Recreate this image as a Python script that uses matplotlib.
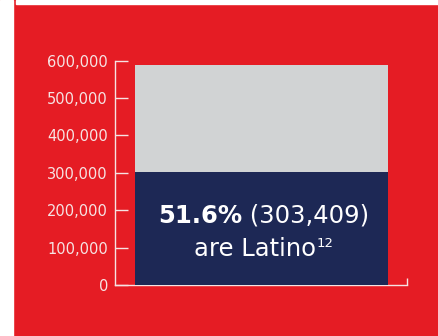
import matplotlib.pyplot as plt
from matplotlib.patches import Rectangle

# population split shown in one stacked bar
total = 588002
latino = 303409
share = 51.6
ticks = [0, 100000, 200000, 300000, 400000, 500000, 600000]

red = '#e51c24'
navy = '#1d2855'
grey = '#d1d3d4'
light = '#f6e3e3'

plt.rcParams['font.family'] = 'DejaVu Sans'

fig = plt.figure(figsize=(4.38, 3.36), dpi=100, facecolor=red)
# white margins at left and top
fig.patches.append(Rectangle((0, 0), 13/438, 1, transform=fig.transFigure, color='white', zorder=0))
fig.patches.append(Rectangle((16/438, 1 - 4/336), 1, 4/336, transform=fig.transFigure, color='white', zorder=0))

ax = fig.add_axes([115/438, 51/336, 292/438, 224.3/336])
ax.set_facecolor(red)

ax.bar(0, total, width=0.8, color=grey, zorder=3)
ax.bar(0, latino, width=0.8, color=navy, zorder=3)

x_right = -0.4633 + 292/316.
ax.set_xlim(-0.4633, x_right)
ax.set_ylim(0, 600000)

for s in ['top', 'right']:
    ax.spines[s].set_visible(False)
for s in ['left', 'bottom']:
    ax.spines[s].set_color(light)
    ax.spines[s].set_linewidth(1.0)

ax.set_yticks(ticks)
ax.set_yticklabels(['{:,}'.format(t) for t in ticks])
ax.tick_params(axis='y', direction='in', length=9, width=1, color=light,
               labelcolor=light, labelsize=10.5, pad=5)
ax.set_xticks([x_right])
ax.set_xticklabels([''])
ax.tick_params(axis='x', direction='in', length=5, width=1, color=light)

# label inside the bar, bold share followed by the count
fs = 17.5
t1 = fig.text(0, 0, '{}%'.format(share), fontsize=fs, fontweight='bold', color='white',
              ha='right', va='baseline', transform=None, zorder=4)
t2 = fig.text(0, 0, ' ({:,})'.format(latino), fontsize=fs, color='white',
              ha='left', va='baseline', transform=None, zorder=4)
t3 = fig.text(0, 0, 'are Latino', fontsize=fs, color='white',
              ha='left', va='baseline', transform=None, zorder=4)
t4 = fig.text(0, 0, '12', fontsize=9.5, color='white',
              ha='left', va='baseline', transform=None, zorder=4)
fig.canvas.draw()
r = fig.canvas.get_renderer()
w1 = t1.get_window_extent(r).width
w2 = t2.get_window_extent(r).width
w3 = t3.get_window_extent(r).width
w4 = t4.get_window_extent(r).width
cx = 264
xs = cx + (w1 - w2) / 2
t1.set_position((xs, 336 - 223))
t2.set_position((xs, 336 - 223))
x3 = cx - (w3 + w4 + 1) / 2
t3.set_position((x3, 336 - 256))
t4.set_position((x3 + w3 + 1, 336 - 256 + 9))

fig.savefig('out.png', dpi=100, facecolor=red)
